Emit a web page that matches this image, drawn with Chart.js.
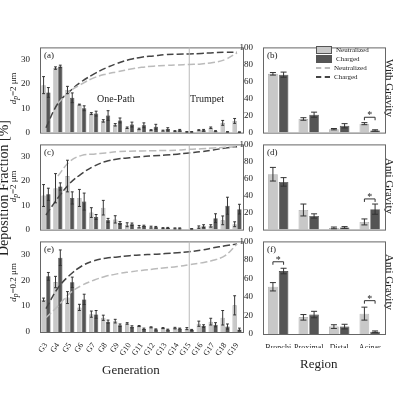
<!DOCTYPE html>
<html><head><meta charset="utf-8">
<script src="https://cdn.jsdelivr.net/npm/chart.js@4/dist/chart.umd.min.js"></script>
<style>
body{margin:0;width:400px;height:400px;background:#fff;position:relative;font-family:"Liberation Serif",serif;overflow:hidden}
.box{position:absolute}
.t{position:absolute;font-family:"Liberation Serif",serif;color:#222;white-space:nowrap}
.rot{transform:rotate(-90deg);transform-origin:center}
.rot90{transform:rotate(90deg);transform-origin:center}
.sw{display:inline-block;width:14px;height:6px;vertical-align:middle;margin-right:4px;border:1px solid #555}
</style></head><body>
<div class="box" style="left:18px;top:40px;width:230px;height:100px"><canvas id="ca"></canvas></div>
<div class="box" style="left:18px;top:137px;width:230px;height:100px"><canvas id="cc"></canvas></div>
<div class="box" style="left:18px;top:234px;width:230px;height:126px"><canvas id="ce"></canvas></div>
<div class="box" style="left:239px;top:40px;width:151px;height:100px"><canvas id="cb"></canvas></div>
<div class="box" style="left:239px;top:137px;width:151px;height:100px"><canvas id="cd"></canvas></div>
<div class="box" style="left:239px;top:234px;width:151px;height:114px"><canvas id="cf"></canvas></div>

<div class="t" style="left:97px;top:93px;font-size:10px">One-Path</div>
<div class="t" style="left:190px;top:93px;font-size:10px">Trumpet</div>
<div class="t" style="left:102px;top:362px;font-size:13px">Generation</div>
<div class="t" style="left:300px;top:356px;font-size:13px">Region</div>
<div class="t rot" style="left:-66px;top:180px;width:140px;text-align:center;font-size:14px">Deposition Fraction [%]</div>
<div class="t rot" style="left:-16px;top:82px;width:60px;text-align:center;font-size:9px"><i>d<sub>p</sub></i>=2 μm</div>
<div class="t rot" style="left:-16px;top:180px;width:60px;text-align:center;font-size:9px"><i>d<sub>p</sub></i>=2 μm</div>
<div class="t rot" style="left:-21px;top:276px;width:70px;text-align:center;font-size:9px"><i>d<sub>p</sub></i>=0.2 μm</div>
<div class="t rot90" style="left:350px;top:82px;width:80px;text-align:center;font-size:11px">With Gravity</div>
<div class="t rot90" style="left:350px;top:180px;width:80px;text-align:center;font-size:11px">Anti Gravity</div>
<div class="t rot90" style="left:350px;top:276px;width:80px;text-align:center;font-size:11px">Anti Gravity</div>
<div class="t" style="left:316px;top:46px;font-size:7px;line-height:9px">
<div><span class="sw" style="background:#c8c8c8"></span>Neutralized</div>
<div><span class="sw" style="background:#555"></span>Charged</div>
<div><span class="sw" style="border:none;border-top:2px dashed #bbb;height:0;vertical-align:middle"></span>Neutralized</div>
<div><span class="sw" style="border:none;border-top:2px dashed #444;height:0;vertical-align:middle"></span>Charged</div>
</div>
<script>
const generations = ['G3','G4','G5','G6','G7','G8','G9','G10','G11','G12','G13','G14','G15','G16','G17','G18','G19'];
const regions = ['Bronchi','Proximal','Distal','Acinar'];

// panel (a) with gravity, dp=2
const aNeu = [19.5,26.5,17.5,11.5,7.8,4.8,3.2,2.0,1.5,1.0,0.8,0.6,0.3,1.0,2.0,4.0,4.8];
const aNeuErr = [3.5,0.5,1.5,0.2,0.4,0.5,0.5,0.3,0.3,0.2,0.2,0.2,0.1,0.2,0.3,1.0,1.0];
const aChg = [16.5,27.2,14.3,10.0,7.8,7.0,5.0,3.3,3.0,2.4,1.5,1.0,0.3,1.0,0.6,0.3,0.2];
const aChgErr = [2.0,0.5,2.0,1.0,1.0,2.0,1.0,1.0,1.0,1.0,0.5,0.3,0.1,0.3,0.2,0.1,0.1];
const aCumNeu = [null,12,17,20,22.5,24,25,26,26.8,27.3,27.6,27.8,28,28.2,28.8,30,32.8];
const aCumChg = [2,12,17,21,24,26.5,28.5,30,31,31.5,32,32.2,32.3,32.5,32.8,33,33];

// panel (c) anti gravity, dp=2
const cNeu = [14,17,22,13,7,9,4.2,2,1.2,1,0.6,0.5,0,1,1.5,3.8,2.2];
const cNeuErr = [4.5,6,6.5,3.5,2,3,1.5,0.8,0.5,0.4,0.2,0.2,0,0.5,0.5,1.8,1];
const cChg = [14.5,17.7,13,11.5,5.2,3.8,2.7,2.2,1.5,1,0.7,0.5,0.3,1.4,4.7,9.8,8.4];
const cChgErr = [2.5,1.5,2.5,3.5,1,0.8,0.6,0.5,0.3,0.3,0.2,0.2,0.1,0.6,1.8,3.5,2];
const cCumNeu = [null,22,28,30.5,31,31.5,32,32.2,32.3,32.4,32.5,32.6,33,33.2,33.5,33.8,34];
const cCumChg = [6,13,19,23,26,28,29,29.5,30,30.3,30.6,31,31.5,32,32.7,33.5,34];

// panel (e) anti gravity, dp=0.2
const eNeu = [12.5,19.3,13.3,9.5,6.9,5.5,4.2,3.3,2.3,1.8,1.5,1.5,1.3,3.2,4,5.5,10.3];
const eNeuErr = [0.6,2.2,2.3,1.2,1.2,1,0.7,0.3,0.2,0.2,0.2,0.3,0.4,1,1.3,2.8,3.7];
const eChg = [21.5,28.7,19.2,12.6,6.8,4,2.6,2,1.2,1,0.9,1.3,0.8,2.3,2.8,2.1,1];
const eChgErr = [1.5,3,2,2,1.5,0.6,0.5,0.4,0.3,0.2,0.2,0.2,0.2,0.5,0.8,1,0.5];
const eCumNeu = [5.5,10,15,18,20,21.5,22.5,23.2,23.8,24.3,24.8,25.3,26,26.7,27.7,29.5,34];
const eCumChg = [9,17,22,25.5,27.5,28.5,29,29.5,29.8,30,30.3,30.6,31,31.6,32.5,33.3,34];

// regional panels
const bNeu = [69,16,4,10.5], bNeuErr = [1.5,1.5,0.8,1.2];
const bChg = [68,21,8,2.5], bChgErr = [3,3,2.5,0.8];
const dNeu = [65,23,2,9], dNeuErr = [8,7,1,3.5];
const dChg = [56,16,2.5,24], dChgErr = [5,2.5,1,6];
const fNeu = [51,18,8,22], fNeuErr = [4.5,3,2,7];
const fChg = [68,21,8,2.5], fChgErr = [3,3.5,2.5,0.8];

const LIGHT = '#c8c8c8', DARK = '#555555';
const FONT = {family:'Liberation Serif', size:9};

const framePlugin = {
  id:'frame',
  afterDraw(chart){
    const {ctx, chartArea:a} = chart;
    ctx.save(); ctx.strokeStyle='#666'; ctx.lineWidth=1;
    ctx.strokeRect(a.left+0.5,a.top+0.5,a.right-a.left,a.bottom-a.top);
    const o = chart.options.plugins.frame;
    // error bars
    [0,1].forEach(di=>{
      const meta = chart.getDatasetMeta(di);
      const errs = o.errs[di];
      ctx.strokeStyle='#333';
      meta.data.forEach((bar,i)=>{
        const v = chart.data.datasets[di].data[i], e = errs[i];
        if(!e) return;
        const y1 = chart.scales.y.getPixelForValue(v+e), y0 = chart.scales.y.getPixelForValue(Math.max(0,v-e));
        const w = Math.min(3, bar.width/3);
        ctx.beginPath();
        ctx.moveTo(bar.x,y0); ctx.lineTo(bar.x,y1);
        ctx.moveTo(bar.x-w,y1); ctx.lineTo(bar.x+w,y1);
        ctx.moveTo(bar.x-w,y0); ctx.lineTo(bar.x+w,y0);
        ctx.stroke();
      });
    });
    // significance brackets
    (o.sig||[]).forEach(([i,val])=>{
      const b0 = chart.getDatasetMeta(0).data[i], b1 = chart.getDatasetMeta(1).data[i];
      const y = chart.scales.y.getPixelForValue(val);
      ctx.beginPath();
      ctx.moveTo(b0.x,y+3); ctx.lineTo(b0.x,y); ctx.lineTo(b1.x,y); ctx.lineTo(b1.x,y+3);
      ctx.stroke();
      ctx.fillStyle='#222'; ctx.font='10px Liberation Serif'; ctx.textAlign='center';
      ctx.fillText('*',(b0.x+b1.x)/2,y+1);
    });
    // panel letter
    ctx.fillStyle='#222'; ctx.font='9px Liberation Serif'; ctx.textAlign='left';
    ctx.fillText(o.letter,a.left+4,a.top+11);
    // divider between G14 and G15
    if(o.divider){
      const x = chart.scales.x.getPixelForValue(12);
      ctx.strokeStyle='#bbb'; ctx.beginPath(); ctx.moveTo(x,a.top); ctx.lineTo(x,a.bottom); ctx.stroke();
    }
    ctx.restore();
  }
};

function makeChart(id, labels, neu, chg, errs, opts){
  const datasets = [
    {type:'bar', data:neu, backgroundColor:LIGHT, borderColor:'#888', borderWidth:0.6, order:2},
    {type:'bar', data:chg, backgroundColor:DARK, borderColor:'#333', borderWidth:0.6, order:2}
  ];
  if(opts.cumNeu){
    datasets.push({type:'line', data:opts.cumNeu, borderColor:'#bbbbbb', borderDash:[7,3], borderWidth:1.5, pointRadius:0, tension:0.4, spanGaps:true, order:1});
    datasets.push({type:'line', data:opts.cumChg, borderColor:'#444', borderDash:[7,3], borderWidth:1.5, pointRadius:0, tension:0.4, order:1});
  }
  new Chart(document.getElementById(id), {
    data:{labels, datasets},
    options:{
      responsive:true, maintainAspectRatio:false, animation:false,
      layout:{padding:{top:2,right:opts.padR,left:0,bottom:0}},
      datasets:{bar:{categoryPercentage:opts.cat, barPercentage:0.9}},
      plugins:{legend:{display:false}, tooltip:{enabled:false},
        frame:{errs, sig:opts.sig, letter:opts.letter, divider:opts.divider}},
      scales:{
        x:{display:opts.showX, grid:{display:false}, border:{display:false},
           ticks:{font:{family:'Liberation Serif', size:opts.xfs}, color:'#222', autoSkip:false,
                  maxRotation:opts.rot, minRotation:opts.rot, padding:1},
           afterFit(s){ if(opts.showX) s.height = opts.xh; }},
        y:{min:0, max:opts.ymax, grid:{display:false}, border:{display:false},
           ticks:{stepSize:opts.step, font:FONT, color:'#222', padding:2},
           afterFit(s){ s.width = opts.yw; }}
      }
    },
    plugins:[framePlugin]
  });
}

const L = {ymax:35, step:5, yw:22, padR:5, cat:0.8, rot:55, xh:28, xfs:8};
const R = {ymax:100, step:20, yw:24, padR:5, cat:0.7, rot:0, xh:14, xfs:8};
makeChart('ca', generations, aNeu, aChg, [aNeuErr,aChgErr], {...L, showX:false, letter:'(a)', cumNeu:aCumNeu, cumChg:aCumChg, divider:true});
makeChart('cc', generations, cNeu, cChg, [cNeuErr,cChgErr], {...L, showX:false, letter:'(c)', cumNeu:cCumNeu, cumChg:cCumChg, divider:true});
makeChart('ce', generations, eNeu, eChg, [eNeuErr,eChgErr], {...L, showX:true, letter:'(e)', cumNeu:eCumNeu, cumChg:eCumChg, divider:true});
makeChart('cb', regions, bNeu, bChg, [bNeuErr,bChgErr], {...R, showX:false, letter:'(b)', sig:[[3,18]]});
makeChart('cd', regions, dNeu, dChg, [dNeuErr,dChgErr], {...R, showX:false, letter:'(d)', sig:[[3,36]]});
makeChart('cf', regions, fNeu, fChg, [fNeuErr,fChgErr], {...R, showX:true, letter:'(f)', sig:[[0,78],[3,36]]});
</script>
</body></html>
